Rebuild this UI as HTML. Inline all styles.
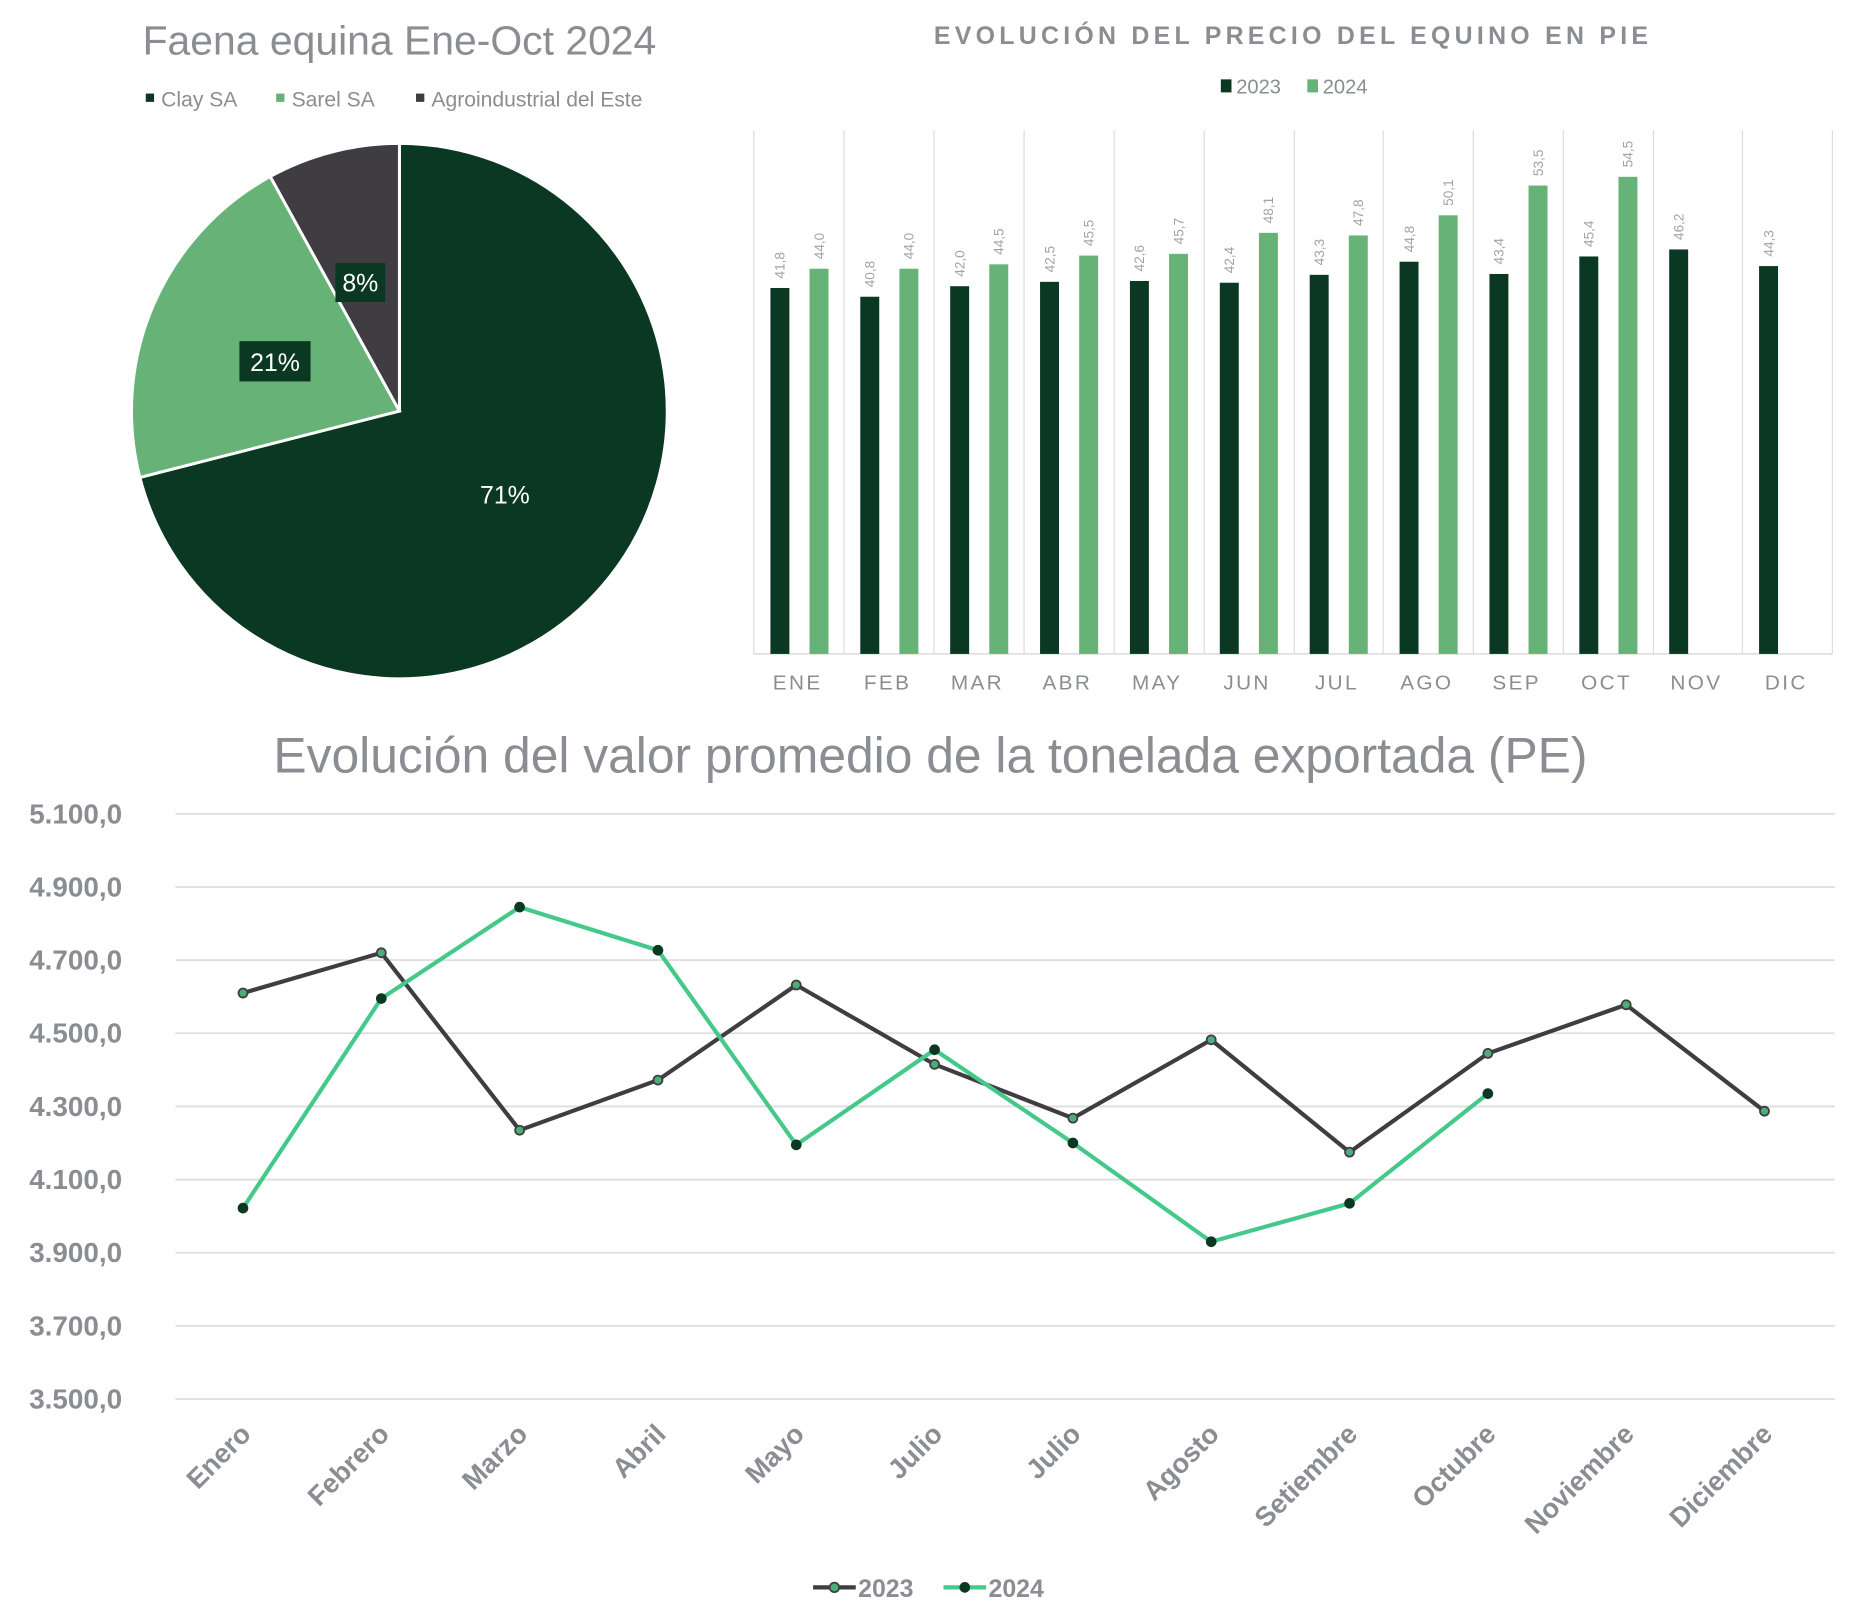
<!DOCTYPE html>
<html><head><meta charset="utf-8"><style>
html,body{margin:0;padding:0;background:#fff}
svg{display:block}
text{font-family:"Liberation Sans",sans-serif}
</style></head><body>
<svg width="1849" height="1617" viewBox="0 0 1560 1365" preserveAspectRatio="none" xmlns="http://www.w3.org/2000/svg">
<!-- PIE -->
<text x="337" y="46" text-anchor="middle" font-size="34.5" fill="#8a8d91">Faena equina Ene-Oct 2024</text>
<rect x="123" y="79" width="7" height="7" fill="#0b3823"/><text x="136" y="90" font-size="17.8" fill="#8a8d91">Clay SA</text>
<rect x="233" y="79" width="7" height="7" fill="#66b277"/><text x="246" y="90" font-size="17.8" fill="#8a8d91">Sarel SA</text>
<rect x="351" y="79" width="7" height="7" fill="#403d42"/><text x="364" y="90" font-size="17.8" fill="#8a8d91">Agroindustrial del Este</text>
<path d="M337,347 L337,121 A226,226 0 1 1 118,403 Z" fill="#0b3823" stroke="#fff" stroke-width="2.5"/>
<path d="M337,347 L118,403 A226,226 0 0 1 228,149 Z" fill="#66b277" stroke="#fff" stroke-width="2.5"/>
<path d="M337,347 L228,149 A226,226 0 0 1 337,121 Z" fill="#403d42" stroke="#fff" stroke-width="2.5"/>
<rect x="283" y="222" width="42" height="33" fill="#0b3823"/><text x="304" y="246" text-anchor="middle" font-size="21" fill="#fff">8%</text>
<rect x="202" y="288" width="60" height="34" fill="#0b3823"/><text x="232" y="313" text-anchor="middle" font-size="21" fill="#fff">21%</text>
<text x="426" y="425" text-anchor="middle" font-size="21" fill="#fff">71%</text>
<!-- BAR -->
<text x="1091" y="37" text-anchor="middle" font-size="21" font-weight="bold" letter-spacing="3.6" fill="#8a8d91">EVOLUCIÓN DEL PRECIO DEL EQUINO EN PIE</text>
<rect x="1030" y="67" width="9" height="11" fill="#0b3823"/><text x="1043" y="79" font-size="17" fill="#8a8d91">2023</text>
<rect x="1103" y="67" width="9" height="11" fill="#66b277"/><text x="1116" y="79" font-size="17" fill="#8a8d91">2024</text>
<g stroke="#dcdcdc" stroke-width="1">
<line x1="636" y1="110" x2="636" y2="552"/><line x1="712" y1="110" x2="712" y2="552"/><line x1="788" y1="110" x2="788" y2="552"/><line x1="864" y1="110" x2="864" y2="552"/><line x1="940" y1="110" x2="940" y2="552"/><line x1="1016" y1="110" x2="1016" y2="552"/><line x1="1092" y1="110" x2="1092" y2="552"/><line x1="1167" y1="110" x2="1167" y2="552"/><line x1="1243" y1="110" x2="1243" y2="552"/><line x1="1319" y1="110" x2="1319" y2="552"/><line x1="1395" y1="110" x2="1395" y2="552"/><line x1="1470" y1="110" x2="1470" y2="552"/><line x1="1546" y1="110" x2="1546" y2="552"/>
<line x1="636" y1="552" x2="1546" y2="552" stroke="#cfcfcf"/>
</g>
<g id="bars"></g>
<!-- LINE -->
<text x="785" y="652" text-anchor="middle" font-size="42" fill="#8a8d91">Evolución del valor promedio de la tonelada exportada (PE)</text>
<g id="lc"></g>
<g>
<line x1="686" y1="1340" x2="722" y2="1340" stroke="#403d42" stroke-width="3.5"/><circle cx="704" cy="1340" r="4" fill="#4caf7a" stroke="#403d42" stroke-width="1.5"/>
<text x="724" y="1348" font-size="21" font-weight="bold" fill="#8a8d91">2023</text>
<line x1="796" y1="1340" x2="832" y2="1340" stroke="#44c98a" stroke-width="3.5"/><circle cx="814" cy="1340" r="4.5" fill="#0b3823"/>
<text x="834" y="1348" font-size="21" font-weight="bold" fill="#8a8d91">2024</text>
</g>
</svg>
<script>
const NS="http://www.w3.org/2000/svg";
function el(p,t,a,txt){const e=document.createElementNS(NS,t);for(const k in a)e.setAttribute(k,a[k]);if(txt!==undefined)e.textContent=txt;p.appendChild(e);return e;}
const bars=document.getElementById('bars');
const m=["ENE","FEB","MAR","ABR","MAY","JUN","JUL","AGO","SEP","OCT","NOV","DIC"];
const a=[41.8,40.8,42.0,42.5,42.6,42.4,43.3,44.8,43.4,45.4,46.2,44.3];
const b=[44.0,44.0,44.5,45.5,45.7,48.1,47.8,50.1,53.5,54.5,null,null];
const s=7.39;
for(let i=0;i<12;i++){
 const x0=636+i*75.83;
 const draw=(v,x,c)=>{const h=v*s,t=552-h;el(bars,'rect',{x:x,y:t,width:16,height:h,fill:c});
  el(bars,'text',{x:0,y:0,'font-size':11.5,fill:'#a0a3a6',transform:`translate(${x+12},${t-8}) rotate(-90)`},v.toFixed(1).replace('.',','));};
 draw(a[i],x0+14,'#0b3823'); if(b[i]!=null)draw(b[i],x0+47,'#66b277');
 el(bars,'text',{x:x0+37,y:582,'text-anchor':'middle','font-size':17.5,fill:'#8a8d91','letter-spacing':2},m[i]);
}
const lc=document.getElementById('lc');
const Y=v=>687+(5100-v)*0.30875;
for(let v=3500;v<=5100;v+=200){const y=Y(v);
 el(lc,'line',{x1:148,y1:y,x2:1548,y2:y,stroke:'#dedede','stroke-width':1.5});
 el(lc,'text',{x:103,y:y+8,'text-anchor':'end','font-size':23.5,'font-weight':'bold',fill:'#8a8d91'},(v/1000).toFixed(3).replace(/(\d)\.(\d{3})/,'$1.$2')+',0');}
const X=i=>205+i*116.7;
const names=["Enero","Febrero","Marzo","Abril","Mayo","Julio","Julio","Agosto","Setiembre","Octubre","Noviembre","Diciembre"];
names.forEach((n,i)=>el(lc,'text',{x:0,y:0,'text-anchor':'end','font-size':23,'font-weight':'bold',fill:'#8a8d91',transform:`translate(${X(i)+8},${1212}) rotate(-45)`},n));
const d23=[4610,4720,4235,4372,4632,4415,4268,4482,4175,4445,4578,4287];
const d24=[4022,4595,4845,4727,4195,4455,4200,3930,4035,4335];
el(lc,'polyline',{points:d23.map((v,i)=>X(i)+','+Y(v)).join(' '),fill:'none',stroke:'#403d42','stroke-width':3.5,'stroke-linejoin':'round'});
el(lc,'polyline',{points:d24.map((v,i)=>X(i)+','+Y(v)).join(' '),fill:'none',stroke:'#44c98a','stroke-width':3.5,'stroke-linejoin':'round'});
d23.forEach((v,i)=>el(lc,'circle',{cx:X(i),cy:Y(v),r:3.8,fill:'#4caf7a',stroke:'#403d42','stroke-width':1.5}));
d24.forEach((v,i)=>el(lc,'circle',{cx:X(i),cy:Y(v),r:4.5,fill:'#0b3823'}));
</script>
</body></html>
